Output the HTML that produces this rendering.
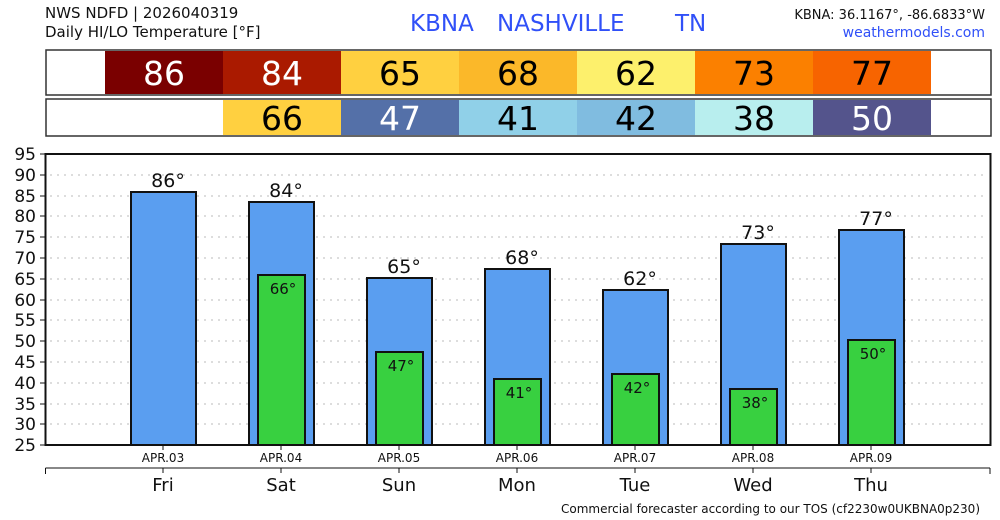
<!DOCTYPE html>
<html><head><meta charset="utf-8"><style>
body{margin:0;background:#fff;}
svg{display:block;font-family:"DejaVu Sans","Liberation Sans",sans-serif;}
</style></head><body>
<svg width="1000" height="520" viewBox="0 0 1000 520">
<text x="45" y="18" font-size="15" fill="#111">NWS NDFD | 2026040319</text>
<text x="45" y="37" font-size="15" fill="#111">Daily HI/LO Temperature [°F]</text>
<text x="410" y="31" font-size="23" fill="#3050f8">KBNA</text>
<text x="497" y="31" font-size="23" fill="#3050f8">NASHVILLE</text>
<text x="675" y="31" font-size="23" fill="#3050f8">TN</text>
<text x="985" y="19" font-size="13" fill="#111" text-anchor="end">KBNA: 36.1167°, -86.6833°W</text>
<text x="985" y="37" font-size="14" fill="#3050f8" text-anchor="end">weathermodels.com</text>
<g font-size="33" text-anchor="middle">
<rect x="46" y="50" width="945" height="45" fill="#fff" stroke="#333" stroke-width="1.5"/>
<rect x="105" y="51" width="118" height="43" fill="#7a0000"/><text x="164" y="85" fill="#fff">86</text>
<rect x="223" y="51" width="118" height="43" fill="#aa1a00"/><text x="282" y="85" fill="#fff">84</text>
<rect x="341" y="51" width="118" height="43" fill="#ffd040"/><text x="400" y="85">65</text>
<rect x="459" y="51" width="118" height="43" fill="#fbb829"/><text x="518" y="85">68</text>
<rect x="577" y="51" width="118" height="43" fill="#fdf06c"/><text x="636" y="85">62</text>
<rect x="695" y="51" width="118" height="43" fill="#fb8000"/><text x="754" y="85">73</text>
<rect x="813" y="51" width="118" height="43" fill="#f76400"/><text x="872" y="85">77</text>
<rect x="46" y="99" width="945" height="37" fill="#fff" stroke="#333" stroke-width="1.5"/>
<rect x="223" y="100" width="118" height="35" fill="#ffd040"/><text x="282" y="130">66</text>
<rect x="341" y="100" width="118" height="35" fill="#5470a8"/><text x="400" y="130" fill="#fff">47</text>
<rect x="459" y="100" width="118" height="35" fill="#90d0e8"/><text x="518" y="130">41</text>
<rect x="577" y="100" width="118" height="35" fill="#80bce0"/><text x="636" y="130">42</text>
<rect x="695" y="100" width="118" height="35" fill="#b8eeee"/><text x="754" y="130">38</text>
<rect x="813" y="100" width="118" height="35" fill="#54548c"/><text x="872" y="130" fill="#fff">50</text>
</g>
<g stroke="#bbb" stroke-dasharray="2,5" stroke-width="1">
<line x1="50" x2="988" y1="175" y2="175"/><line x1="50" x2="988" y1="196" y2="196"/><line x1="50" x2="988" y1="216" y2="216"/><line x1="50" x2="988" y1="237" y2="237"/><line x1="50" x2="988" y1="258" y2="258"/><line x1="50" x2="988" y1="279" y2="279"/><line x1="50" x2="988" y1="300" y2="300"/><line x1="50" x2="988" y1="320" y2="320"/><line x1="50" x2="988" y1="341" y2="341"/><line x1="50" x2="988" y1="362" y2="362"/><line x1="50" x2="988" y1="383" y2="383"/><line x1="50" x2="988" y1="404" y2="404"/><line x1="50" x2="988" y1="424" y2="424"/>
</g>
<g font-size="17" text-anchor="end" fill="#111">
<text x="36" y="160">95</text><text x="36" y="181">90</text><text x="36" y="202">85</text><text x="36" y="222">80</text><text x="36" y="243">75</text><text x="36" y="264">70</text><text x="36" y="285">65</text><text x="36" y="306">60</text><text x="36" y="326">55</text><text x="36" y="347">50</text><text x="36" y="368">45</text><text x="36" y="389">40</text><text x="36" y="410">35</text><text x="36" y="430">30</text><text x="36" y="451">25</text>
</g>
<g stroke="#111" stroke-width="1">
<line x1="40" x2="45" y1="154" y2="154"/><line x1="40" x2="45" y1="175" y2="175"/><line x1="40" x2="45" y1="196" y2="196"/><line x1="40" x2="45" y1="216" y2="216"/><line x1="40" x2="45" y1="237" y2="237"/><line x1="40" x2="45" y1="258" y2="258"/><line x1="40" x2="45" y1="279" y2="279"/><line x1="40" x2="45" y1="300" y2="300"/><line x1="40" x2="45" y1="320" y2="320"/><line x1="40" x2="45" y1="341" y2="341"/><line x1="40" x2="45" y1="362" y2="362"/><line x1="40" x2="45" y1="383" y2="383"/><line x1="40" x2="45" y1="404" y2="404"/><line x1="40" x2="45" y1="424" y2="424"/><line x1="40" x2="45" y1="445" y2="445"/>
</g>
<g stroke="#111" stroke-width="2">
<rect x="131" y="192" width="65" height="253" fill="#5a9ef0"/>
<rect x="249" y="202" width="65" height="243" fill="#5a9ef0"/>
<rect x="367" y="278" width="65" height="167" fill="#5a9ef0"/>
<rect x="485" y="269" width="65" height="176" fill="#5a9ef0"/>
<rect x="603" y="290" width="65" height="155" fill="#5a9ef0"/>
<rect x="721" y="244" width="65" height="201" fill="#5a9ef0"/>
<rect x="839" y="230" width="65" height="215" fill="#5a9ef0"/>
<rect x="258" y="275" width="47" height="170" fill="#38d040"/>
<rect x="376" y="352" width="47" height="93" fill="#38d040"/>
<rect x="494" y="379" width="47" height="66" fill="#38d040"/>
<rect x="612" y="374" width="47" height="71" fill="#38d040"/>
<rect x="730" y="389" width="47" height="56" fill="#38d040"/>
<rect x="848" y="340" width="47" height="105" fill="#38d040"/>
</g>
<rect x="45.5" y="154" width="945" height="291" fill="none" stroke="#111" stroke-width="2"/>
<g font-size="19" text-anchor="middle" fill="#111">
<text x="168" y="187">86°</text><text x="286" y="197">84°</text><text x="404" y="273">65°</text><text x="522" y="264">68°</text><text x="640" y="285">62°</text><text x="758" y="239">73°</text><text x="876" y="225">77°</text>
</g>
<g font-size="15" text-anchor="middle" fill="#111">
<text x="283" y="294">66°</text><text x="401" y="371">47°</text><text x="519" y="398">41°</text><text x="637" y="393">42°</text><text x="755" y="408">38°</text><text x="873" y="359">50°</text>
</g>
<g stroke="#111" stroke-width="1">
<line x1="163" x2="163" y1="445" y2="450"/><line x1="281" x2="281" y1="445" y2="450"/><line x1="399" x2="399" y1="445" y2="450"/><line x1="517" x2="517" y1="445" y2="450"/><line x1="635" x2="635" y1="445" y2="450"/><line x1="753" x2="753" y1="445" y2="450"/><line x1="871" x2="871" y1="445" y2="450"/>
<line x1="45.5" x2="990" y1="468" y2="468"/><line x1="45.5" x2="45.5" y1="468" y2="474"/><line x1="990" x2="990" y1="468" y2="474"/>
<line x1="163" x2="163" y1="468" y2="473"/><line x1="281" x2="281" y1="468" y2="473"/><line x1="399" x2="399" y1="468" y2="473"/><line x1="517" x2="517" y1="468" y2="473"/><line x1="635" x2="635" y1="468" y2="473"/><line x1="753" x2="753" y1="468" y2="473"/><line x1="871" x2="871" y1="468" y2="473"/>
</g>
<g font-size="12" text-anchor="middle" fill="#111">
<text x="163" y="462">APR.03</text><text x="281" y="462">APR.04</text><text x="399" y="462">APR.05</text><text x="517" y="462">APR.06</text><text x="635" y="462">APR.07</text><text x="753" y="462">APR.08</text><text x="871" y="462">APR.09</text>
</g>
<g font-size="18" text-anchor="middle" fill="#111">
<text x="163" y="491">Fri</text><text x="281" y="491">Sat</text><text x="399" y="491">Sun</text><text x="517" y="491">Mon</text><text x="635" y="491">Tue</text><text x="753" y="491">Wed</text><text x="871" y="491">Thu</text>
</g>
<text x="980" y="513" font-size="12" text-anchor="end" fill="#111">Commercial forecaster according to our TOS (cf2230w0UKBNA0p230)</text>
</svg>
</body></html>
